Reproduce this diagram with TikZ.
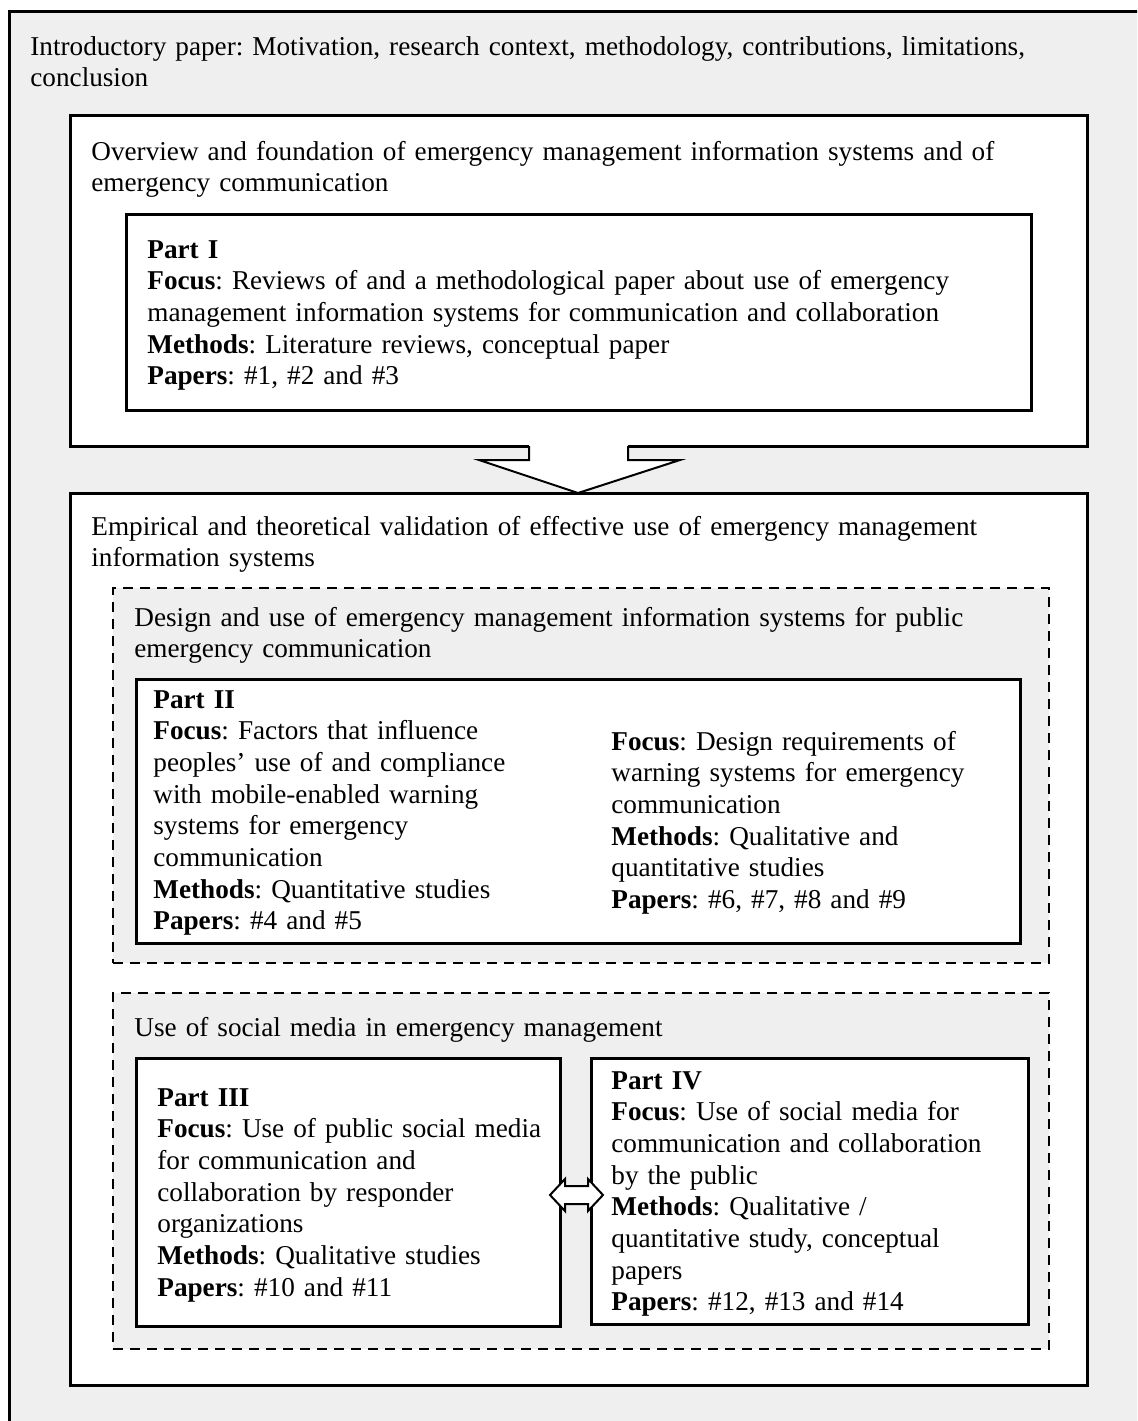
\documentclass[tikz,border=0pt]{standalone}
\usepackage{fontspec}
\setmainfont{Liberation Serif}
\frenchspacing
\usetikzlibrary{fit}
\definecolor{panelgray}{RGB}{239,239,239}
\begin{document}
\begin{tikzpicture}[x=0.5pt,y=-0.5pt,
  frame/.style={draw=black, line width=1.5pt, inner sep=0pt},
  plainbox/.style={frame, fill=white},
  groupbox/.style={draw=black, line width=1pt, dash pattern=on 5pt off 3.5pt,
                   fill=panelgray, inner sep=0pt},
  txt/.style={anchor=base west, inner sep=0pt, align=left, text width=#1,
              font=\fontsize{13.6}{15.85}\selectfont},
  txt/.default=500pt,
  blockarrow/.style={draw=black, line width=1pt, line join=miter, fill=white}
]
% page area
\useasboundingbox (0,0) rectangle (1137,1421);
\fill[white] (0,0) rectangle (1137,1421);

% outer frame, running off the right and bottom edges
\begin{scope}
  \clip (0,0) rectangle (1137,1421);
  \node[frame, fill=panelgray, fit={(9,11) (1160,1440)}] (outer) {};
\end{scope}
\node[txt=540pt] (introtext) at (30,55)
  {Introductory paper: Motivation, research context, methodology, contributions, limitations,\\
   conclusion};

% foundation block
\node[plainbox, fit={(70,115) (1087,446)}] (found) {};
\node[txt=520pt] (foundtext) at (91,160)
  {Overview and foundation of emergency management information systems and of\\
   emergency communication};
\node[plainbox, fit={(126,214) (1031,410)}] (part1) {};
\node[txt=470pt] (part1text) at (147,258)
  {\textbf{Part I}\\
   \textbf{Focus}: Reviews of and a methodological paper about use of emergency\\
   management information systems for communication and collaboration\\
   \textbf{Methods}: Literature reviews, conceptual paper\\
   \textbf{Papers}: \#1, \#2 and \#3};

% validation block
\node[plainbox, fit={(70,493) (1087,1385)}] (valid) {};
\node[txt=520pt] (validtext) at (91,535)
  {Empirical and theoretical validation of effective use of emergency management\\
   information systems};

% block arrow from foundation to validation
\coordinate (tip) at (578,493);
\fill[white] (529,443) -- (529,460) -- (479,460) -- (tip) -- (680,460) -- (628,460) -- (628,443) -- cycle;
\draw[blockarrow, fill=none] (529,446) -- (529,460) -- (479,460) -- (tip) -- (680,460) -- (628,460) -- (628,446);

% public emergency communication group
\node[groupbox, fit={(113,588) (1049,963)}] (grpwarn) {};
\node[txt=480pt] (grpwarntext) at (134,626)
  {Design and use of emergency management information systems for public\\
   emergency communication};
\node[plainbox, fit={(136,679) (1020,943)}] (part2) {};
\node[txt=220pt] (part2left) at (153,708)
  {\textbf{Part II}\\
   \textbf{Focus}: Factors that influence\\
   peoples’ use of and compliance\\
   with mobile-enabled warning\\
   systems for emergency\\
   communication\\
   \textbf{Methods}: Quantitative studies\\
   \textbf{Papers}: \#4 and \#5};
\node[txt=200pt] (part2right) at (611,750)
  {\textbf{Focus}: Design requirements of\\
   warning systems for emergency\\
   communication\\
   \textbf{Methods}: Qualitative and\\
   quantitative studies\\
   \textbf{Papers}: \#6, \#7, \#8 and \#9};

% social media group
\node[groupbox, fit={(113,993) (1049,1349)}] (grpsocial) {};
\node[txt=480pt] (grpsocialtext) at (134,1036)
  {Use of social media in emergency management};
\node[plainbox, fit={(136,1058) (560,1326)}] (part3) {};
\node[txt=200pt] (part3text) at (157,1106)
  {\textbf{Part III}\\
   \textbf{Focus}: Use of public social media\\
   for communication and\\
   collaboration by responder\\
   organizations\\
   \textbf{Methods}: Qualitative studies\\
   \textbf{Papers}: \#10 and \#11};
\node[plainbox, fit={(591,1058) (1028,1324)}] (part4) {};
\node[txt=200pt] (part4text) at (611,1089)
  {\textbf{Part IV}\\
   \textbf{Focus}: Use of social media for\\
   communication and collaboration\\
   by the public\\
   \textbf{Methods}: Qualitative /\\
   quantitative study, conceptual\\
   papers\\
   \textbf{Papers}: \#12, \#13 and \#14};

% two-headed block arrow between Part III and Part IV
\coordinate (ltip) at (550,1195);
\coordinate (rtip) at (603,1195);
\draw[blockarrow] (ltip) -- (565,1179) -- (565,1186) -- (588,1186) -- (588,1179)
  -- (rtip) -- (588,1211) -- (588,1204) -- (565,1204) -- (565,1211) -- cycle;
\end{tikzpicture}
\end{document}
